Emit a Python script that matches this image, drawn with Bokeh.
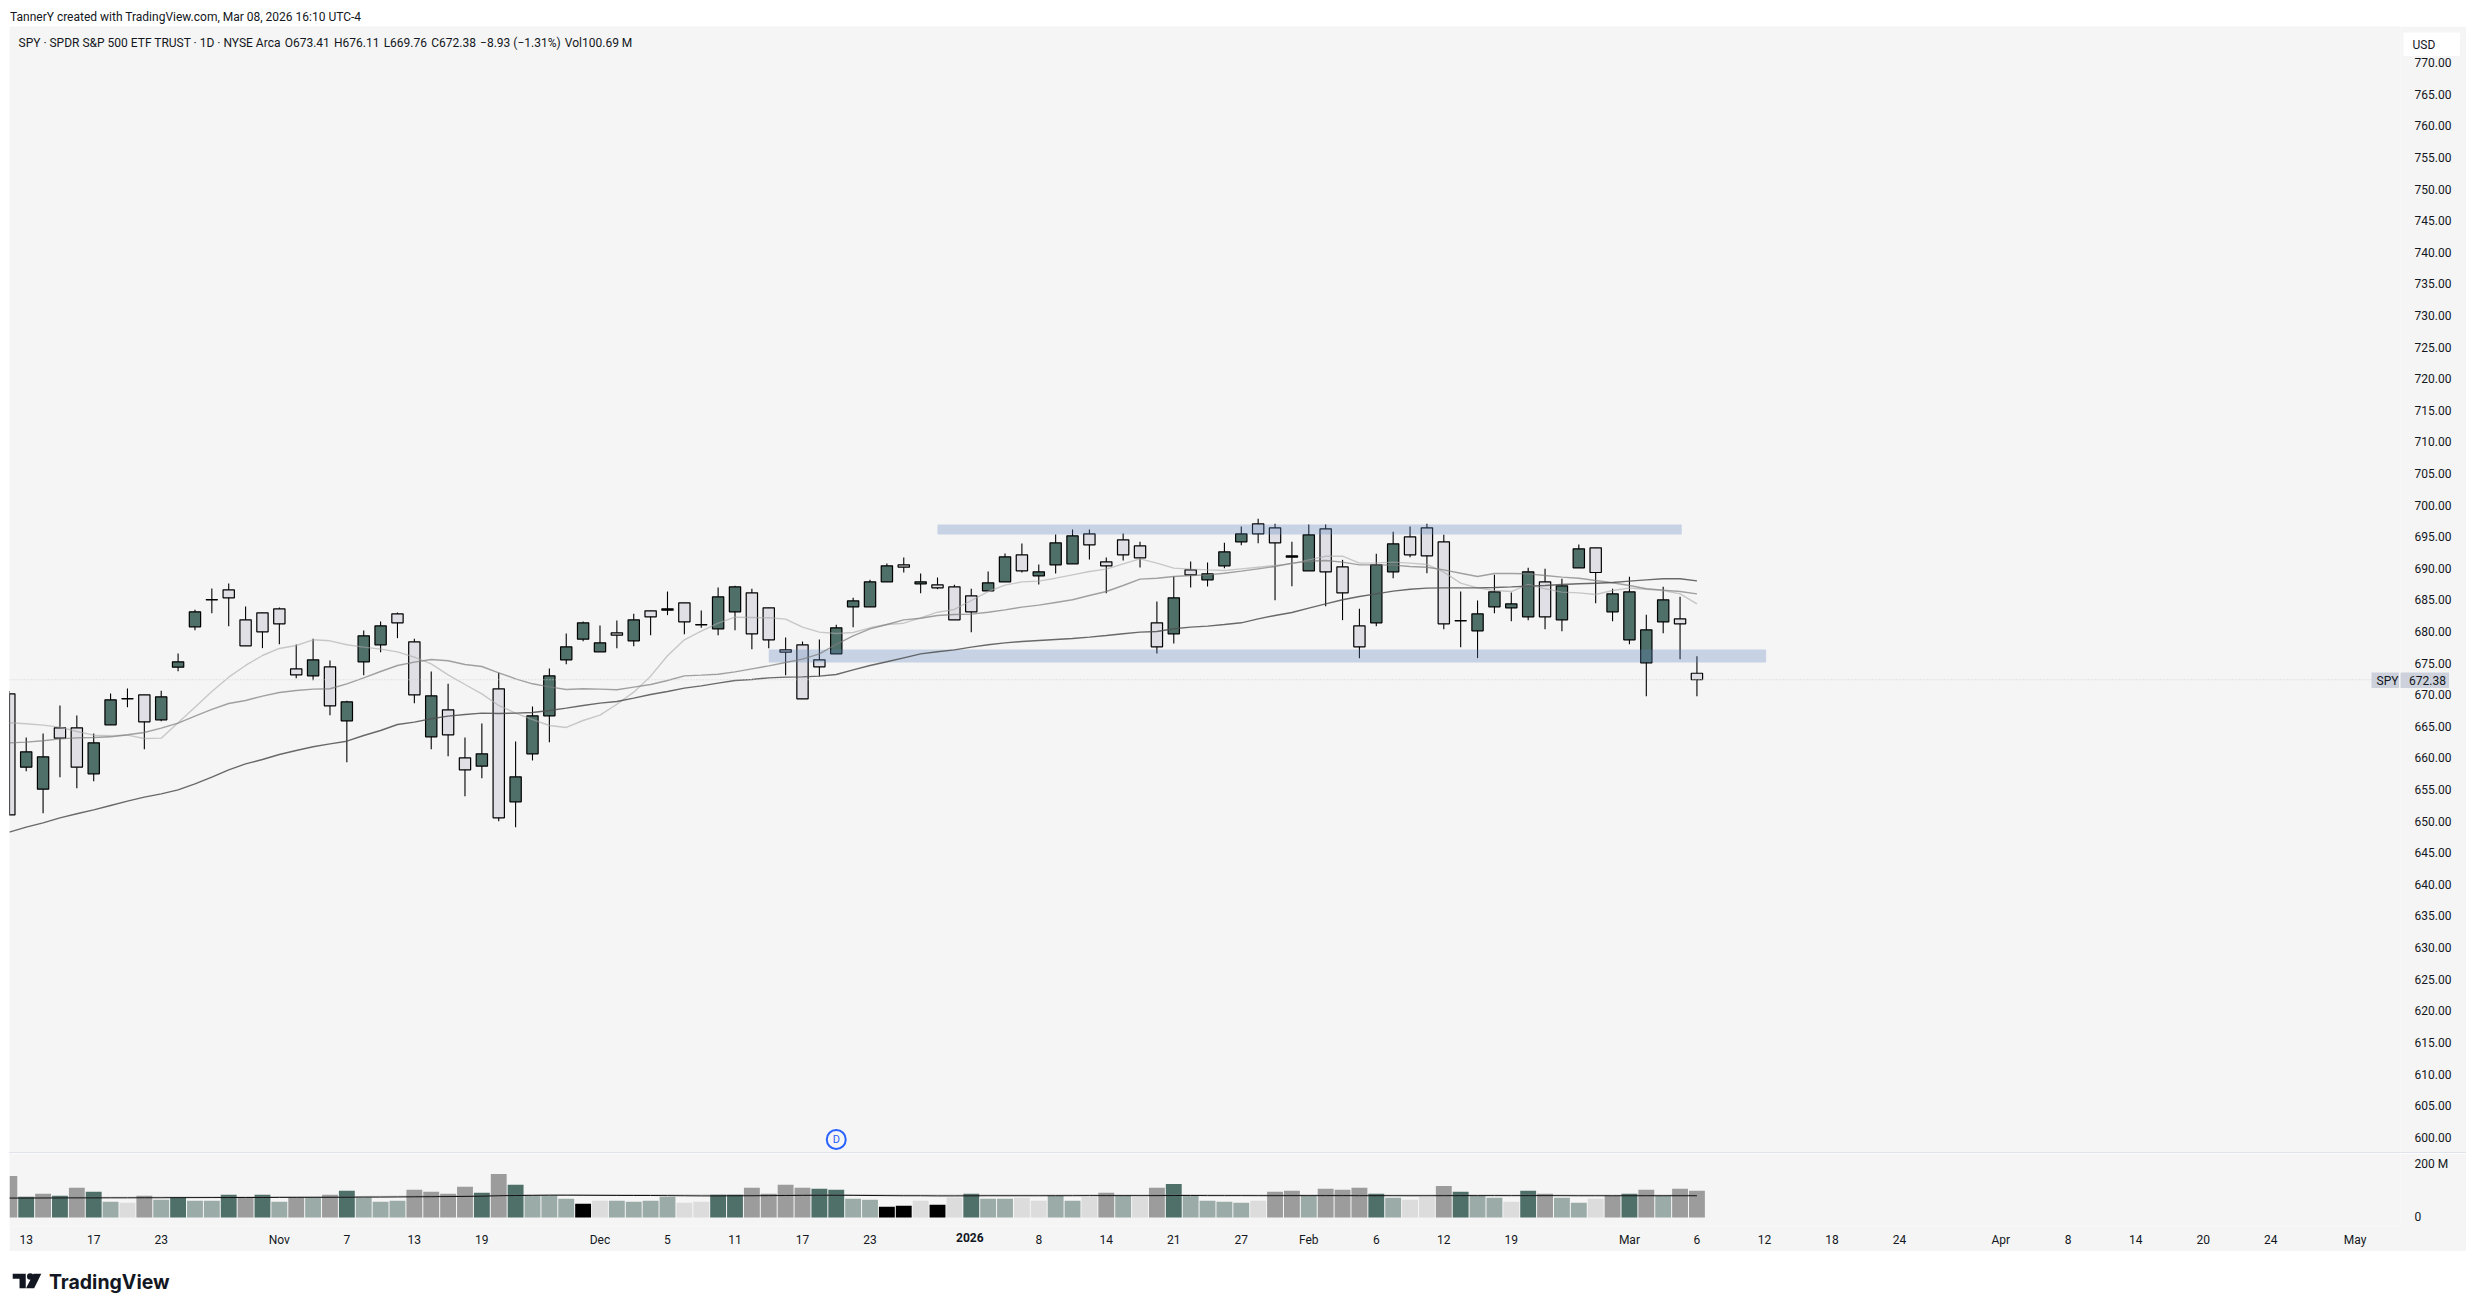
from bokeh.plotting import figure
from bokeh.layouts import column
from bokeh.models import (ColumnDataSource, Range1d, FixedTicker, Label, Span, Spacer)
from bokeh.core.properties import value
from bokeh.embed import file_html
from bokeh.resources import INLINE

HEADER_TEXT = "TannerY created with TradingView.com, Mar 08, 2026 16:10 UTC-4"
LEGEND_TEXT = "SPY · SPDR S&P 500 ETF TRUST · 1D · NYSE Arca \u200aO673.41 \u200aH676.11 \u200aL669.76 \u200aC672.38 \u200a−8.93 (−1.31%) \u200aVol100.69 M"

OPENS = [670.15,658.55,655.07,664.77,664.77,657.50,665.25,669.36,670.00,666.04,674.37,680.75,685.03,686.61,681.86,682.97,683.60,674.11,673.00,674.43,665.88,
675.22,677.91,682.81,678.38,663.35,667.62,660.03,658.71,670.95,653.07,660.66,666.67,675.53,678.80,676.80,679.80,678.54,683.29,683.39,684.55,
681.07,680.44,683.13,686.13,683.76,677.11,677.91,675.53,676.48,683.92,683.92,687.87,690.56,687.56,687.40,687.08,685.66,686.45,687.87,692.15,
688.82,690.56,690.72,695.47,691.04,694.52,693.57,681.39,679.65,689.77,688.19,690.41,694.20,697.05,696.42,691.78,689.61,696.26,690.25,680.91,
681.39,689.46,694.99,696.42,694.20,681.70,680.12,683.92,683.76,682.34,687.87,681.86,690.09,693.25,683.13,678.70,675.06,681.54,682.02,673.41]
HIGHS = [670.60,663.25,663.88,668.31,666.73,663.88,670.21,671.00,670.00,670.63,676.54,683.44,686.82,687.61,683.97,682.97,683.81,677.96,678.86,675.43,669.05,
680.17,681.60,683.02,678.86,673.69,671.74,663.25,665.46,673.48,662.61,668.15,674.16,679.70,681.60,680.97,681.76,682.81,683.29,686.34,684.55,
683.34,686.98,687.24,686.77,683.76,679.07,678.43,678.75,681.07,685.34,688.19,690.77,691.72,689.19,688.56,687.40,686.77,689.51,692.36,693.94,
690.62,695.36,696.15,696.15,691.72,695.52,694.20,684.76,688.72,691.09,690.93,694.04,696.63,697.84,697.05,694.20,696.94,696.94,691.35,683.60,
692.30,695.78,696.63,697.05,695.31,686.34,684.92,688.98,686.19,690.09,689.93,688.35,693.78,693.25,686.77,688.66,682.65,687.08,685.50,676.11]
LOWS = [650.90,657.92,651.27,656.97,655.23,656.34,665.25,668.04,661.40,665.83,673.74,680.23,682.92,680.86,677.75,677.38,678.01,672.63,672.32,666.78,659.34,
673.11,676.75,678.96,668.68,661.40,660.29,653.96,656.81,650.01,649.06,659.61,662.51,674.85,678.49,676.80,677.38,677.69,679.44,682.60,679.59,
680.60,679.44,680.23,677.22,677.38,673.11,669.36,672.95,676.48,680.70,683.92,687.87,689.35,686.08,686.71,681.86,679.91,686.45,687.87,689.35,
687.45,689.19,690.72,691.41,686.08,691.25,690.14,676.53,678.12,686.98,687.14,690.04,693.68,693.99,684.97,687.19,689.61,684.02,681.81,675.80,
680.86,688.45,691.78,689.24,680.38,677.54,675.80,682.92,681.65,681.81,680.38,680.07,690.09,684.50,681.65,678.01,669.78,679.75,675.64,669.76]
CLOSES = [651.00,660.98,660.19,663.14,658.55,662.40,669.20,669.38,665.72,669.68,675.22,683.13,685.05,685.34,677.75,679.96,681.23,673.16,675.53,668.26,668.89,
679.33,680.91,681.39,670.00,669.84,663.67,658.13,660.66,650.53,657.02,666.67,673.00,677.59,681.39,678.22,679.44,681.86,682.34,683.60,681.54,
681.09,685.50,687.08,679.65,678.70,676.75,669.36,674.43,680.60,684.87,687.87,690.41,690.19,687.87,686.92,681.86,683.13,687.72,691.83,689.61,
689.46,694.04,695.15,693.73,690.41,692.15,691.67,677.59,685.34,688.98,689.14,692.62,695.47,695.47,694.04,691.99,695.31,689.46,686.13,677.59,
690.56,693.89,692.15,691.99,681.23,681.72,682.81,686.29,684.39,689.46,682.34,687.24,693.09,689.35,685.97,686.29,680.28,685.03,681.23,672.38]

MA_FAST = [665.57,665.41,665.20,664.88,664.19,663.61,663.51,663.61,663.09,663.14,665.57,668.04,670.52,672.79,674.64,676.22,677.33,677.80,678.70,678.54,677.91,
677.54,677.22,676.80,675.96,674.90,673.16,671.63,670.15,668.31,667.10,666.09,665.14,664.83,665.93,666.78,668.50,670.42,672.95,676.17,678.70,
680.07,681.33,682.28,682.23,682.18,681.97,680.70,679.91,679.70,679.86,680.60,681.12,681.33,682.18,683.07,683.50,684.92,686.34,687.35,687.87,
687.98,688.45,688.98,689.51,689.88,690.72,691.51,690.83,690.04,689.88,689.77,689.67,689.93,690.19,690.46,690.72,691.35,691.93,691.93,690.83,
690.88,690.99,690.83,690.62,689.40,687.66,686.92,686.50,686.34,687.45,686.77,686.24,686.13,685.87,686.50,686.87,686.71,686.50,685.97,684.39]
MA_MID = [662.40,662.51,662.72,663.03,663.19,663.25,663.35,663.67,664.04,664.72,665.51,666.62,667.68,668.62,669.10,669.78,670.36,670.68,670.89,670.95,671.74,
672.69,673.69,674.64,675.16,675.59,675.38,674.80,674.48,673.48,672.53,671.74,671.26,670.84,670.95,670.89,670.79,671.21,671.63,672.26,673.00,
673.11,673.26,673.63,674.11,674.58,675.11,675.64,676.48,677.96,679.33,680.44,681.12,681.86,682.12,682.55,682.71,682.76,683.07,683.44,683.87,
684.18,684.60,685.03,685.71,686.34,687.29,688.30,688.45,688.72,688.88,688.98,689.24,689.56,689.93,690.30,690.83,691.14,691.25,690.99,690.56,
690.56,690.51,690.30,690.19,689.77,689.24,688.72,689.19,689.19,689.14,688.88,688.61,688.45,688.08,687.72,687.29,686.77,686.56,686.34,685.97]
MA_SLOW = [648.27,649.06,649.74,650.53,651.17,651.80,652.49,653.17,653.80,654.33,654.96,655.91,656.97,658.13,659.08,659.76,660.56,661.19,661.77,662.24,662.66,
663.56,664.35,665.30,665.67,666.20,666.62,666.88,667.10,667.04,667.10,667.20,667.52,667.89,668.31,668.68,668.94,669.47,670.05,670.52,671.05,
671.42,671.84,672.26,672.42,672.68,672.79,672.84,672.95,673.21,673.95,674.64,675.22,675.85,676.48,676.80,677.11,677.54,677.91,678.22,678.43,
678.59,678.75,678.91,679.12,679.38,679.65,679.91,680.02,680.44,680.70,680.86,681.12,681.39,682.02,682.55,683.02,683.71,684.39,685.03,685.55,
685.97,686.40,686.71,686.87,686.92,686.92,686.92,686.98,687.08,687.19,687.29,687.45,687.56,687.66,687.77,687.98,688.19,688.35,688.35,688.03]

VOLUMES = [156.6,78.3,89.5,82.0,111.9,97.0,59.7,55.9,82.0,67.1,75.8,63.4,63.4,85.8,75.8,85.8,59.7,75.8,74.6,85.8,100.7,
75.8,59.7,63.4,104.4,97.0,89.5,115.6,93.2,164.1,123.1,82.0,82.0,70.9,52.2,63.4,63.4,59.7,63.4,78.3,55.9,
59.7,85.8,85.8,111.9,89.5,123.1,111.9,108.1,104.4,70.9,67.1,41.0,44.7,63.4,48.5,75.8,89.5,70.9,70.9,74.6,
63.4,82.0,63.4,78.3,93.2,82.0,78.3,111.9,126.8,82.0,63.4,59.7,55.9,63.4,97.0,100.7,82.0,108.1,104.4,111.9,
89.5,74.6,67.1,78.3,119.3,97.0,82.0,74.6,59.7,100.7,89.5,74.6,55.9,70.9,82.0,89.5,104.4,82.0,108.1,100.69]
VOL_KIND = ["G","D","G","D","G","D","M","L","G","M","D","M","M","D","G","D","M","G","M","G","D",
"M","M","M","G","G","G","G","D","G","D","M","M","M","K","L","M","M","M","M","L",
"L","D","D","G","G","G","G","D","D","M","M","K","K","L","K","L","D","M","M","L",
"L","M","M","L","G","M","L","G","D","M","M","M","M","L","G","G","M","G","G","G",
"D","M","L","L","G","D","M","M","L","D","G","M","M","L","G","D","G","M","G","G"]
VOL_MA = [73.2,73.3,73.5,73.8,74,74,74.2,74.2,74.5,74.5,75,75,75.2,75.3,75.5,75.5,75.8,76,76,76.2,76.5,
77,77,77.5,78,78.5,79,79.5,80.5,82,83,83.5,84,84,83.8,83.5,83.2,83,83,82.5,82,
81.5,81.5,82,82,82.5,83,83.5,84,84,83.5,83,82.5,82,82,81.5,81.5,81.8,82,82,82,
82,82.2,82.2,82.5,82.5,82.5,82.3,82.5,83,83,82.5,82.5,82.5,82.3,82.3,82.5,82.5,82.5,82.5,82.3,
82.3,82.2,82,82,82.3,82.5,82.5,82.5,82.3,82.5,82.5,82.3,82,82,82,82,82,82,82,82]
VOL_MA2 = [76,76,76,76.2,76.2,76.5,76.5,76.8,77,77,77.2,77.2,77.5,77.5,77.8,78,78,78.2,78.5,78.5,79,
79.5,80,80.5,81,81.5,82,82.5,83,84,85,85.5,86,86.2,86.2,86,86,86,85.8,85.8,85.5,
85.2,85,85,85,85.2,85.5,85.5,85.8,86,86,85.8,85.5,85.2,85,84.8,84.8,84.8,85,85,85,
85,85,85.2,85.2,85.2,85.2,85,85.2,85.5,85.5,85.5,85.2,85.2,85,85,85,85.2,85.2,85,85,
85,84.8,84.8,84.8,85,85,85,85,84.8,85,85,85,84.8,84.8,84.5,84.5,84.5,84.5,84.5,84.5]

PRICE_TICKS = list(range(600, 775, 5))
VOL_TICKS = [0, 200]
VOL_TICK_LABELS = ["0", "200 M"]
TIME_TICKS = [1,5,9,16,20,24,28,35,39,43,47,51,61,65,69,73,77,81,85,89,96,100,104,108,112,118,122,126,130,134,139]
TIME_LABELS = ["13","17","23","Nov","7","13","19","Dec","5","11","17","23","8","14","21","27","Feb","6","12","19","Mar","6","12","18","24","Apr","8","14","20","24","May"]
YEAR_LABEL = "2026"
DIVIDEND_BAR = 49
LAST_PRICE = 672.38
LAST_PRICE_LABEL = "672.38"
ZONE_UPPER = (55, 99.1, 695.36, 696.95)
ZONE_LOWER = (45, 104.1, 675.11, 677.17)

PANEL = "#f5f5f5"
TEXT = "#131722"
FONT = "Roboto"
UP = "#4f6f69"
DOWN = "#dfdfe5"
TAG = "#ccd1dc"
VOL_COLORS = {"D": "#4f6f69", "M": "#9aaba8", "G": "#9c9c9c", "L": "#dcdcdc", "K": "#000000"}
W = 2457
X_RANGE = (0.0104, 141.69)

bars = list(range(len(OPENS)))

def chip(text, left, top, w, h, fill, tx, bold=False):
    c = figure(frame_width=w, frame_height=h, x_range=Range1d(0, w), y_range=Range1d(0, h), x_axis_location=None, y_axis_location=None,
               output_backend="svg", toolbar_location=None, min_border=0, outline_line_color=None,
               background_fill_color=fill, border_fill_color=fill, margin=0,
               styles={"position": "absolute", "left": f"{left}px", "top": f"{top}px", "z-index": "10"})
    c.grid.visible = False
    c.add_layout(Label(x=tx, y=h / 2, text=text, text_font=FONT, text_font_size="12px",
                       text_font_style="bold" if bold else "normal", text_baseline="middle", text_color=TEXT))
    return c

# header
head = figure(width=W, height=18, x_range=Range1d(0, W), y_range=Range1d(18, 0), x_axis_location=None, y_axis_location=None,
              output_backend="svg", toolbar_location=None, min_border=0, outline_line_color=None, background_fill_color="white", border_fill_color="white")
head.grid.visible = False
head.text(x=[0.5], y=[8], text=[HEADER_TEXT], text_font=value(FONT), text_font_size="12px", text_baseline="middle", text_color=TEXT)

# price pane
p = figure(width=W, height=1126, x_range=Range1d(*X_RANGE), y_range=Range1d(597.58, 775.74), x_axis_location=None, y_axis_location="right",
           output_backend="svg", toolbar_location=None, min_border=0, min_border_right=66, outline_line_color=None,
           background_fill_color=PANEL, border_fill_color=PANEL)
p.grid.visible = False
ax = p.yaxis[0]
ax.ticker = FixedTicker(ticks=PRICE_TICKS)
ax.major_label_overrides = {t: f"{t:.2f}" for t in PRICE_TICKS}
ax.axis_line_color = None
ax.major_tick_line_color = None
ax.minor_tick_line_color = None
ax.major_label_standoff = 8
ax.major_label_text_font = FONT
ax.major_label_text_font_size = "12px"
ax.major_label_text_color = TEXT

p.add_layout(Span(location=LAST_PRICE, dimension="width", line_color="#cfcfcf", line_width=1, line_dash="1 2"))

src = ColumnDataSource(dict(
    x=bars, h=HIGHS, l=LOWS,
    top=[max(o, c) for o, c in zip(OPENS, CLOSES)],
    bot=[min(o, c) for o, c in zip(OPENS, CLOSES)],
    fill=[UP if c > o else DOWN for o, c in zip(OPENS, CLOSES)],
))
p.segment("x", "h", "x", "l", source=src, line_color="black", line_width=1.1)
p.vbar("x", 0.67, "top", "bot", source=src, fill_color="fill", line_color="black", line_width=1.2)

for z in (ZONE_UPPER, ZONE_LOWER):
    p.quad(left=[z[0]], right=[z[1]], bottom=[z[2]], top=[z[3]], fill_color="#5e86be", fill_alpha=0.3, line_color=None)

p.line(bars, MA_FAST, line_color="#a8a8a8", line_alpha=0.6, line_width=1.4)
p.line(bars, MA_MID, line_color="#7c7c7c", line_alpha=0.7, line_width=1.4)
p.line(bars, MA_SLOW, line_color="#505050", line_alpha=0.85, line_width=1.4)

p.scatter([DIVIDEND_BAR], [599.64], marker="circle", size=19, fill_color=PANEL, line_color="#2962ff", line_width=2)
p.add_layout(Label(x=DIVIDEND_BAR, y=599.64, text="D", text_align="center", text_baseline="middle", text_color="#2962ff",
                   text_font=FONT, text_font_size="11px"))
p.add_layout(Label(x=0.544, y=773.2, text=LEGEND_TEXT, text_baseline="middle", text_color=TEXT, text_font=FONT, text_font_size="12px"))

# volume pane
v = figure(width=W, height=98, x_range=p.x_range, y_range=Range1d(-34, 241.5), x_axis_location="below", y_axis_location="right",
           output_backend="svg", toolbar_location=None, min_border=0, min_border_right=66, min_border_bottom=25, outline_line_color=None,
           background_fill_color=PANEL, border_fill_color=PANEL)
v.grid.visible = False
vy = v.yaxis[0]
vy.ticker = FixedTicker(ticks=VOL_TICKS)
vy.major_label_overrides = dict(zip(VOL_TICKS, VOL_TICK_LABELS))
vx = v.xaxis[0]
vx.ticker = FixedTicker(ticks=TIME_TICKS)
vx.major_label_overrides = dict(zip(TIME_TICKS, TIME_LABELS))
vy.major_label_standoff = 8
vx.major_label_standoff = 0
for a in (vy, vx):
    a.axis_line_color = None
    a.major_tick_line_color = None
    a.minor_tick_line_color = None
    a.major_label_text_font = FONT
    a.major_label_text_font_size = "12px"
    a.major_label_text_color = TEXT

vsrc = ColumnDataSource(dict(x=bars, vol=VOLUMES, c=[VOL_COLORS[k] for k in VOL_KIND]))
v.vbar("x", 0.94, "vol", 0, source=vsrc, fill_color="c", line_color=None)
v.line(bars, VOL_MA2, line_color="#808080", line_alpha=0.4, line_width=1)
v.line(bars, VOL_MA, line_color="#111111", line_width=1)

# footer with logo
foot = figure(width=W, height=52, x_range=Range1d(9, 9 + W), y_range=Range1d(1303, 1251), x_axis_location=None, y_axis_location=None,
              output_backend="svg", toolbar_location=None, min_border=0, outline_line_color=None, background_fill_color="white", border_fill_color="white")
foot.grid.visible = False
foot.patches([[12.3, 25.7, 25.7, 19.3, 19.3, 12.3], [33.7, 41.7, 34.3, 26.0]],
             [[1273.3, 1273.3, 1287.7, 1287.7, 1278.3, 1278.3], [1273.3, 1273.3, 1287.7, 1287.7]], fill_color="#131722", line_color=None)
foot.scatter([30.3], [1276], marker="circle", size=6.5, fill_color="#131722", line_color=None)
foot.text(x=[49.5], y=[1281], text=["TradingView"], text_font=value("Inter"), text_font_style="bold", text_font_size="19.5px",
          text_baseline="middle", text_color="#131722")

sep = Spacer(width=W, height=1, styles={"background": "#e0e3eb"})
chips = [
    chip("USD", 2394, 24, 57, 24, "white", 9),
    chip("SPY", 2362, 664, 28, 16, TAG, 5),
    chip(LAST_PRICE_LABEL, 2391, 664, 49, 16, TAG, 8.5),
    chip(YEAR_LABEL, 945, 1221, 30, 16, PANEL, 1.5, bold=True),
]
page = column(head, p, sep, v, foot, *chips, spacing=0, margin=(8, 0, 0, 9))
open("out.html", "w").write(file_html(page, INLINE))
